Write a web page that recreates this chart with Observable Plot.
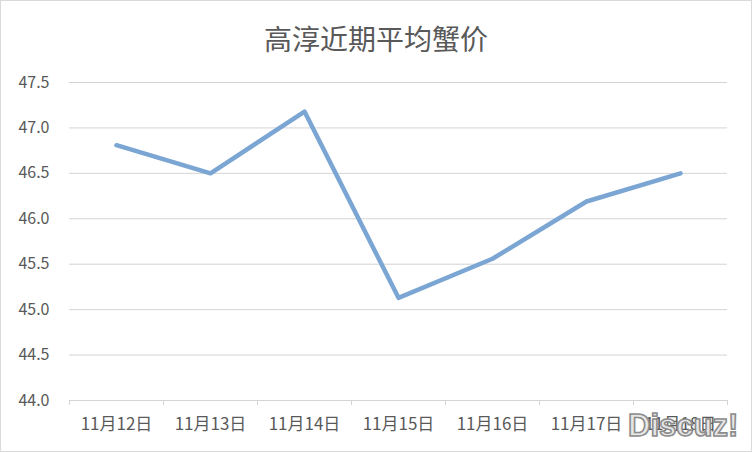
<!DOCTYPE html>
<html>
<head>
<meta charset="utf-8">
<script src="https://cdn.jsdelivr.net/npm/d3@7"></script>
<script src="https://cdn.jsdelivr.net/npm/@observablehq/plot@0.6"></script>
<style>
  html, body { margin: 0; padding: 0; background: #fff; }
  #wrap { position: relative; width: 752px; height: 452px; box-sizing: border-box; border: 1px solid #d9d9d9; background: #fff; overflow: hidden; }
  #title { height: 64px; box-sizing: border-box; padding-top: 22px; text-align: center; font-family: "Noto Sans CJK SC", sans-serif; font-size: 28px; line-height: 30px; color: #595959; }
  #wm { position: absolute; left: 627px; top: 409px; font-family: "Liberation Sans", Arial, sans-serif; font-weight: bold; font-size: 31px; line-height: 31px; color: #e6e6e6; -webkit-text-stroke: 1.6px #8c8c8c; }
</style>
</head>
<body>
<div id="wrap">
  <div id="title">高淳近期平均蟹价</div>
  <div id="chart"></div>
  <div id="wm">Discuz!</div>
</div>
<script>
const dates = ["11月12日", "11月13日", "11月14日", "11月15日", "11月16日", "11月17日", "11月18日"];
const prices = [46.81, 46.50, 47.18, 45.13, 45.56, 46.19, 46.50];
const yTicks = [44.0, 44.5, 45.0, 45.5, 46.0, 46.5, 47.0, 47.5];

const data = dates.map((d, i) => ({i, date: d, price: prices[i]}));
const idx = dates.map((d, i) => i);
const bounds = d3.range(dates.length + 1).map(i => i - 0.5);

const chart = Plot.plot({
  width: 750,
  height: 386,
  marginTop: 17,
  marginBottom: 51,
  marginLeft: 68,
  marginRight: 24,
  style: { fontFamily: "'Noto Sans CJK SC', sans-serif", fontSize: "16px", color: "#595959", background: "#fff" },
  x: { type: "linear", domain: [-0.5, dates.length - 0.5] },
  y: { domain: [44, 47.5] },
  marks: [
    Plot.ruleY(yTicks, { stroke: "#d4d4d4", strokeWidth: 1 }),
    Plot.axisY({ ticks: yTicks, tickFormat: d3.format(".1f"), tickSize: 0, tickPadding: 20, fontSize: 16, label: null }),
    Plot.axisX({ ticks: bounds, tickFormat: () => "", tickSize: 5, stroke: "#d4d4d4", strokeOpacity: 1, label: null }),
    Plot.axisX({ ticks: idx, tickFormat: i => dates[i], tickSize: 0, tickPadding: 17, fontSize: 17, label: null }),
    Plot.lineY(data, { x: "i", y: "price", stroke: "#7ba6d3", strokeWidth: 4.5, strokeLinejoin: "round", strokeLinecap: "round" })
  ]
});
document.getElementById("chart").appendChild(chart);
</script>
</body>
</html>
